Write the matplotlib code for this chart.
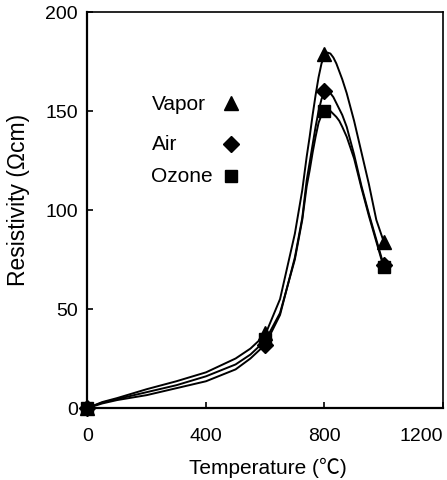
import matplotlib
matplotlib.use("Agg")
import matplotlib.pyplot as plt

plt.rcParams['font.family'] = ['Liberation Sans', 'Noto Sans CJK JP', 'DejaVu Sans']

# measured points
temps = [0, 600, 800, 1000]
vapor = [0, 38, 179, 84]
air = [0, 32, 160, 72]
ozone = [0, 35, 150, 71]

# smooth curves
curve_t = [0, 50, 100, 200, 300, 400, 500, 550, 600, 650, 700, 725, 740, 750,
           760, 770, 780, 790, 800, 810, 820, 830, 840, 850, 860, 875, 900,
           925, 950, 975, 1000]
vapor_curve = [0, 3, 5, 9.5, 13.5, 18, 25, 30, 37, 55, 88, 110, 127, 137,
               148, 158, 167, 174, 178, 179.5, 179, 177, 174, 170, 166, 159, 145,
               129, 113, 95, 84]
ozone_curve = [0, 2.7, 4.5, 8, 11.5, 16, 22, 27, 34, 48, 75, 95, 112, 120,
               129, 137, 144, 148, 150, 150.5, 150, 148.5, 147, 145, 142, 137, 126,
               111, 97, 84, 71]
air_curve = [0, 2.3, 4, 6.5, 10, 13.5, 19.5, 25, 32, 47, 76, 96, 115, 124,
             133, 142, 150, 156, 159.5, 160, 159, 157, 154, 151, 148, 142, 128,
             112, 98, 85, 72]

labels = ['Vapor', 'Air', 'Ozone']
markers = ['^', 'D', 's']
sizes = [10, 8, 8.5]

fig = plt.figure(figsize=(4.47, 4.81), dpi=100)
ax = fig.add_axes([0.1957, 0.1497, 0.7953, 0.8233])

for c in [vapor_curve, ozone_curve, air_curve]:
    ax.plot(curve_t, c, color='black', lw=1.4)

ax.plot(temps, vapor, '^', color='black', ms=sizes[0], clip_on=False)
ax.plot(temps, air, 'D', color='black', ms=sizes[1], clip_on=False)
ax.plot(temps, ozone, 's', color='black', ms=sizes[2], clip_on=False)

# legend drawn by hand so the labels stay left aligned
for i, (lab, m) in enumerate(zip(labels, markers)):
    y = [0.770, 0.667, 0.586][i]
    ax.text(0.18, y, lab, transform=ax.transAxes, fontsize=15, va='center', ha='left')
    ax.plot([0.404], [y], m, color='black', ms=sizes[i], transform=ax.transAxes)

ax.set_xlim(0, 1200)
ax.set_ylim(0, 200)
ax.set_xticks([0, 400, 800, 1200])
ax.set_yticks([0, 50, 100, 150, 200])
ax.tick_params(direction='in', length=4, width=1.2, labelsize=14)
ax.tick_params(axis='x', pad=14)
ax.tick_params(axis='y', pad=7)
ax.get_xticklabels()[-1].set_ha('right')
for s in ['left', 'bottom']:
    ax.spines[s].set_linewidth(1.6)
for s in ['top', 'right']:
    ax.spines[s].set_linewidth(1.2)

ax.set_xlabel('Temperature (℃)', fontsize=15)
ax.set_ylabel('Resistivity (Ωcm)', fontsize=16.5)
ax.xaxis.set_label_coords(0.508, -0.124)
ax.yaxis.set_label_coords(-0.162, 0.528)

fig.savefig('out.png', dpi=100)
